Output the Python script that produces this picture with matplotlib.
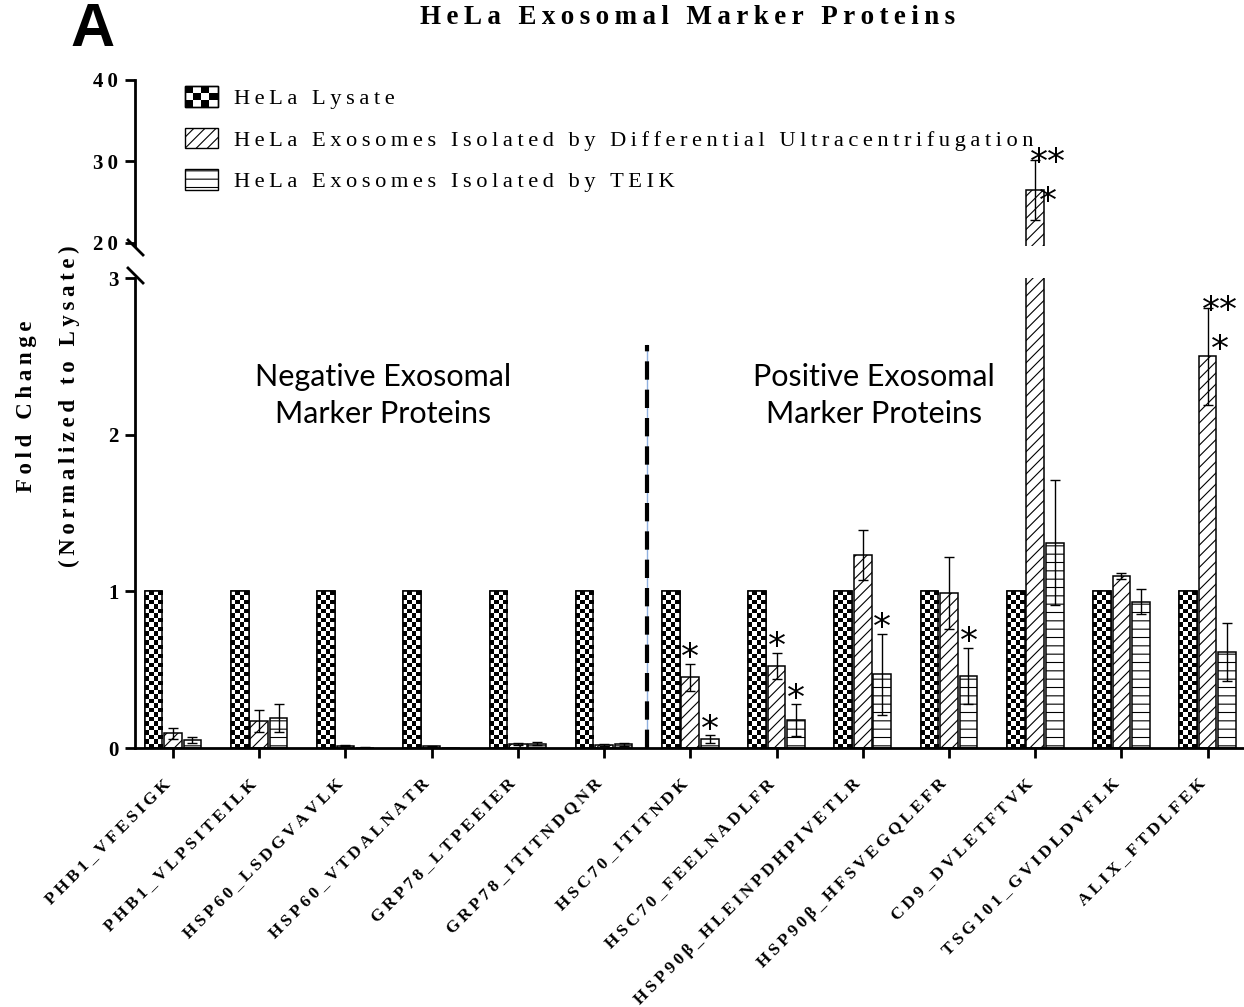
import numpy as np
import matplotlib
matplotlib.use('Agg')
import matplotlib.pyplot as plt
from matplotlib.patches import Rectangle, Patch
from matplotlib.legend_handler import HandlerBase
from matplotlib.lines import Line2D
from matplotlib.transforms import ScaledTranslation

# ---- data ----
groups = ['PHB1_VFESIGK', 'PHB1_VLPSITEILK', 'HSP60_LSDGVAVLK', 'HSP60_VTDALNATR',
          'GRP78_LTPEEIER', 'GRP78_ITITNDQNR', 'HSC70_ITITNDK', 'HSC70_FEELNADLFR',
          'HSP90β_HLEINPDHPIVETLR', 'HSP90β_HFSVEGQLEFR', 'CD9_DVLETFTVK',
          'TSG101_GVIDLDVFLK', 'ALIX_FTDLFEK']
lysate = [1.0] * 13
uc = [0.095, 0.17, 0.015, 0.01, 0.025, 0.02, 0.452, 0.525, 1.234, 0.99, 26.5, 1.10, 2.50]
uc_err = [0.035, 0.07, 0.005, 0.004, 0.008, 0.008, 0.086, 0.084, 0.16, 0.23, 3.7, 0.02, 0.31]
teik = [0.05, 0.19, 0.003, 0.002, 0.027, 0.023, 0.058, 0.178, 0.47, 0.46, 1.31, 0.935, 0.61]
teik_err = [0.02, 0.09, 0.002, 0.001, 0.01, 0.008, 0.025, 0.10, 0.26, 0.18, 0.40, 0.08, 0.185]
uc_sig = ['', '', '', '', '', '', '*', '*', '', '', '***', '', '***']
teik_sig = ['', '', '', '', '', '', '*', '*', '*', '*', '', '', '']
series_names = ['HeLa Lysate',
                'HeLa Exosomes Isolated by Differential Ultracentrifugation',
                'HeLa Exosomes Isolated by TEIK']
lower_ticks = [0, 1, 2, 3]
upper_ticks = [20, 30, 40]
region_labels = ['Negative Exosomal\nMarker Proteins', 'Positive Exosomal\nMarker Proteins']
title = 'HeLa Exosomal Marker Proteins'
ylabel = 'Fold Change\n(Normalized to Lysate)'

SERIF = 'Liberation Serif'
plt.rcParams['hatch.color'] = 'black'
plt.rcParams['hatch.linewidth'] = 0.8


def spaced(s, gap='\u2009'):
    # GraphPad export draws these texts letter-spaced
    return '\n'.join(gap.join(line) for line in s.split('\n'))


W, H = 1244, 1007
fig = plt.figure(figsize=(W / 100, H / 100), dpi=100)


def px_axes(left, top, right, bottom):
    return fig.add_axes([left / W, 1 - bottom / H, (right - left) / W, (bottom - top) / H])


ax_lo = px_axes(135, 278, 1243, 748)
ax_hi = px_axes(135, 80, 1243, 246)

x = np.arange(len(groups))
off = 0.226
bw = 0.205
ekw = dict(ecolor='black', elinewidth=1, capsize=3.5, capthick=1)

for ax in (ax_lo, ax_hi):
    ax.bar(x - off, lysate, bw, color='white', edgecolor='black', lw=1.1, zorder=2)
    ax.bar(x, uc, bw, yerr=uc_err, color='white', edgecolor='black', lw=1.1,
           hatch='///', zorder=2, error_kw=ekw)
    ax.bar(x + off, teik, bw, yerr=teik_err, color='white', edgecolor='black', lw=1.1,
           hatch='--', zorder=2, error_kw=ekw)
    ax.set_xlim(-0.44, 12.41)
    for s in ('top', 'right'):
        ax.spines[s].set_visible(False)
    ax.spines['left'].set_linewidth(2)
    ax.tick_params(axis='y', direction='out', length=7, width=2, pad=5)

ax_lo.set_ylim(0, 3)
ax_hi.set_ylim(19.6, 40)
ax_hi.spines['bottom'].set_visible(False)
ax_hi.set_xticks([])
ax_lo.spines['bottom'].set_linewidth(2)
ax_lo.tick_params(axis='x', direction='out', length=7, width=2, pad=17)

ax_lo.set_yticks(lower_ticks)
ax_lo.set_yticklabels([spaced(str(t)) for t in lower_ticks], fontfamily=SERIF,
                      fontweight='bold', fontsize=15)
ax_hi.set_yticks(upper_ticks)
ax_hi.set_yticklabels([spaced(str(t)) for t in upper_ticks], fontfamily=SERIF,
                      fontweight='bold', fontsize=15)
ax_lo.set_xticks(x)
ax_lo.set_xticklabels([spaced(g) for g in groups], rotation=45, ha='right', va='center',
                      rotation_mode='anchor', fontfamily=SERIF, fontweight='bold', fontsize=12.5)
shift = ScaledTranslation(-5 / 100, 0, fig.dpi_scale_trans)
for lbl in ax_lo.get_xticklabels():
    lbl.set_transform(lbl.get_transform() + shift)

# checkerboard fill for the lysate bars
fig.canvas.draw()
for rect in ax_lo.patches[:len(groups)]:
    x0, w, h = rect.get_x(), rect.get_width(), rect.get_height()
    p0 = ax_lo.transData.transform((x0, 0))
    p1 = ax_lo.transData.transform((x0 + w, h))
    ncol = 4
    nrow = int(round((p1[1] - p0[1]) / ((p1[0] - p0[0]) / ncol)))
    board = np.add.outer(np.arange(nrow), np.arange(ncol)) % 2
    ax_lo.imshow(board, cmap='binary', vmin=0, vmax=1, extent=(x0, x0 + w, 0, h),
                 origin='lower', interpolation='nearest', aspect='auto', zorder=2.5)
    ax_lo.add_patch(Rectangle((x0, 0), w, h, fill=False, edgecolor='black', lw=1.1, zorder=3))
ax_lo.set_xlim(-0.44, 12.41)
ax_lo.set_ylim(0, 3)

# significance stars
for i in range(len(groups)):
    for xp, val, err, sig in ((x[i], uc[i], uc_err[i], uc_sig[i]),
                              (x[i] + off, teik[i], teik_err[i], teik_sig[i])):
        if not sig:
            continue
        ax = ax_hi if val > 3 else ax_lo
        if sig == '*':
            ax.annotate('*', (xp, val + err), xytext=(0, -3.3), textcoords='offset points',
                        ha='center', va='baseline', fontsize=26, annotation_clip=False)
        else:
            ax.annotate('**\n*', (xp, val + err), xytext=(9, 10), textcoords='offset points',
                        ha='center', va='top', multialignment='center', linespacing=1.2,
                        fontsize=26, annotation_clip=False)

# divider between negative and positive markers
ax_lo.axvline(5.5, ymin=0, ymax=2.57 / 3, color='#8fb0e0', lw=1, zorder=1)
ax_lo.axvline(5.5, ymin=0, ymax=2.57 / 3, color='black', lw=3.0, dashes=(4.4, 2.4), zorder=1.5)

ax_lo.text(2.44, 2.25, region_labels[0], ha='center', va='center', fontsize=22,
           family='Lato', linespacing=1.38)
ax_lo.text(8.13, 2.25, region_labels[1], ha='center', va='center', fontsize=22,
           family='Lato', linespacing=1.38)

# axis break marks
fig.add_artist(Line2D([128 / W, 143 / W], [1 - 240 / H, 1 - 255 / H], color='black', lw=2))
fig.add_artist(Line2D([128 / W, 143 / W], [1 - 268 / H, 1 - 283 / H], color='black', lw=2))


class CheckerHandler(HandlerBase):
    def create_artists(self, legend, orig_handle, xdescent, ydescent, width, height,
                       fontsize, trans):
        arts = [Rectangle((-xdescent, -ydescent), width, height, facecolor='white',
                          edgecolor='black', lw=1, transform=trans)]
        nx, ny = 4, 3
        cw, ch = width / nx, height / ny
        for i in range(nx):
            for j in range(ny):
                if (i + j) % 2 == 0:
                    arts.append(Rectangle((-xdescent + i * cw, -ydescent + j * ch), cw, ch,
                                          facecolor='black', edgecolor='none', transform=trans))
        arts.append(Rectangle((-xdescent, -ydescent), width, height, fill=False,
                              edgecolor='black', lw=1, transform=trans))
        return arts


h_lys = Patch(facecolor='white', edgecolor='black')
h_uc = Patch(facecolor='white', edgecolor='black', hatch='///')
h_te = Patch(facecolor='white', edgecolor='black', hatch='--')
ax_hi.legend([h_lys, h_uc, h_te], [spaced(n) for n in series_names],
             handler_map={h_lys: CheckerHandler()},
             loc='upper left', bbox_to_anchor=(185 / W, 1 - 86 / H),
             bbox_transform=fig.transFigure, frameon=False,
             prop={'family': SERIF, 'size': 16.2}, handlelength=1.45, handleheight=1.05,
             handletextpad=0.72, labelspacing=0.82, borderaxespad=0, borderpad=0)

fig.text(688 / W, 1 - 18 / H, spaced(title), ha='center', va='center', fontsize=19.5,
         family=SERIF, fontweight='bold')
fig.text(48 / W, 1 - 406 / H, spaced(ylabel), ha='center', va='center', rotation=90,
         fontsize=16.5, family=SERIF, fontweight='bold', linespacing=2.3)
fig.text(93 / W, 1 - 31 / H, 'A', ha='center', va='center', fontsize=44,
         fontweight='bold', family='Liberation Sans')

fig.savefig('out.png', dpi=100)
